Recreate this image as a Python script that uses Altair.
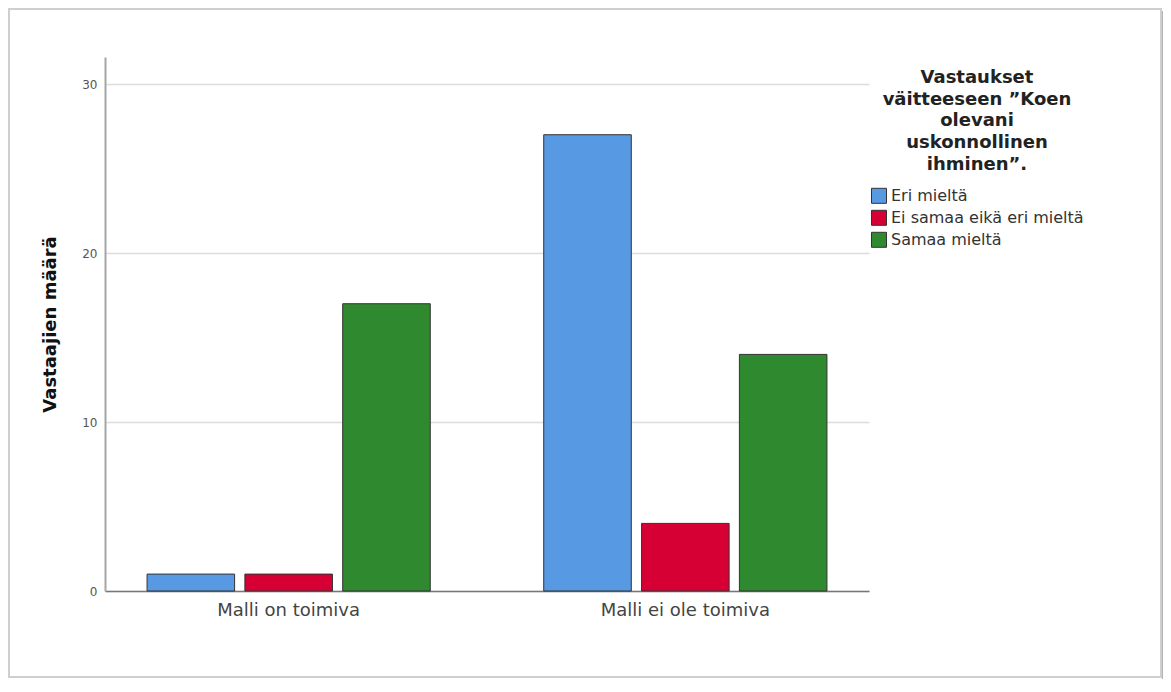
import altair as alt
import pandas as pd

groups = ["Malli on toimiva", "Malli ei ole toimiva"]
responses = ["Eri mieltä", "Ei samaa eikä eri mieltä", "Samaa mieltä"]
on_toimiva = [1, 1, 17]
ei_ole_toimiva = [27, 4, 14]
colors = ["#5899E4", "#D60034", "#2F8A2F"]
legend_title = ["Vastaukset", "väitteeseen ”Koen", "olevani", "uskonnollinen", "ihminen”."]

rows = []
for g, vals in zip(groups, [on_toimiva, ei_ole_toimiva]):
    for r, v in zip(responses, vals):
        rows.append({"ryhma": g, "vastaus": r, "maara": v})
df = pd.DataFrame(rows)

bars = alt.Chart(df).mark_bar(stroke="#333333", strokeWidth=1, fillOpacity=1).encode(
    x=alt.X("ryhma:N", sort=groups,
            scale=alt.Scale(paddingInner=0.286, paddingOuter=0.106),
            axis=alt.Axis(title=None, labelAngle=0, labelFontSize=18, labelColor="#444444",
                          labelPadding=10, ticks=False, domainColor="#777777", domainWidth=1.5,
                          grid=False, labelLimit=400)),
    xOffset=alt.XOffset("vastaus:N", sort=responses,
                        scale=alt.Scale(paddingInner=0.105, paddingOuter=0)),
    y=alt.Y("maara:Q", scale=alt.Scale(domain=[0, 31.6], nice=False, zero=True),
            axis=alt.Axis(title="Vastaajien määrä", values=[0, 10, 20, 30], grid=True,
                          gridColor="#dcdcdc", gridWidth=1.5, ticks=False,
                          domainColor="#a6a6a6", domainWidth=2,
                          labelFontSize=12, labelColor="#555555", labelPadding=8,
                          titleFontSize=18, titleFontWeight="bold", titleColor="#111111",
                          titlePadding=22)),
    color=alt.Color("vastaus:N", sort=responses,
                    scale=alt.Scale(domain=responses, range=colors),
                    legend=alt.Legend(title=legend_title, orient="none", legendX=766, legendY=12,
                                      titleFontSize=18, titleFontWeight="bold", titleColor="#222222",
                                      titleLineHeight=21.7, titleAnchor="middle", titleAlign="center",
                                      titlePadding=14, titleLimit=400, symbolType="square", symbolSize=225,
                                      symbolStrokeColor="#333333", symbolStrokeWidth=1,
                                      symbolOpacity=1, labelFontSize=16, labelColor="#333333",
                                      labelOffset=4, labelLimit=400, rowPadding=2, padding=0)),
)

frame_df = pd.DataFrame({"k": [0]})
frame = alt.Chart(frame_df).mark_rect(fill=None, stroke="#cfcfcf", strokeWidth=2).encode(
    x=alt.value(-96), x2=alt.value(1056), y=alt.value(-48), y2=alt.value(620)
)
shadow = alt.Chart(frame_df).mark_rule(stroke="#b4b4b4", strokeWidth=2).encode(
    x=alt.value(1058), y=alt.value(-46), y2=alt.value(622)
)

chart = alt.layer(frame, shadow, bars).properties(
    width=764, height=534,
    autosize=alt.AutoSizeParams(type="none"),
    padding={"left": 97, "top": 49, "right": 294, "bottom": 89},
).configure(font="DejaVu Sans").configure_view(stroke=None)

chart.save("out.html", embed_options={"renderer": "svg", "actions": False})
